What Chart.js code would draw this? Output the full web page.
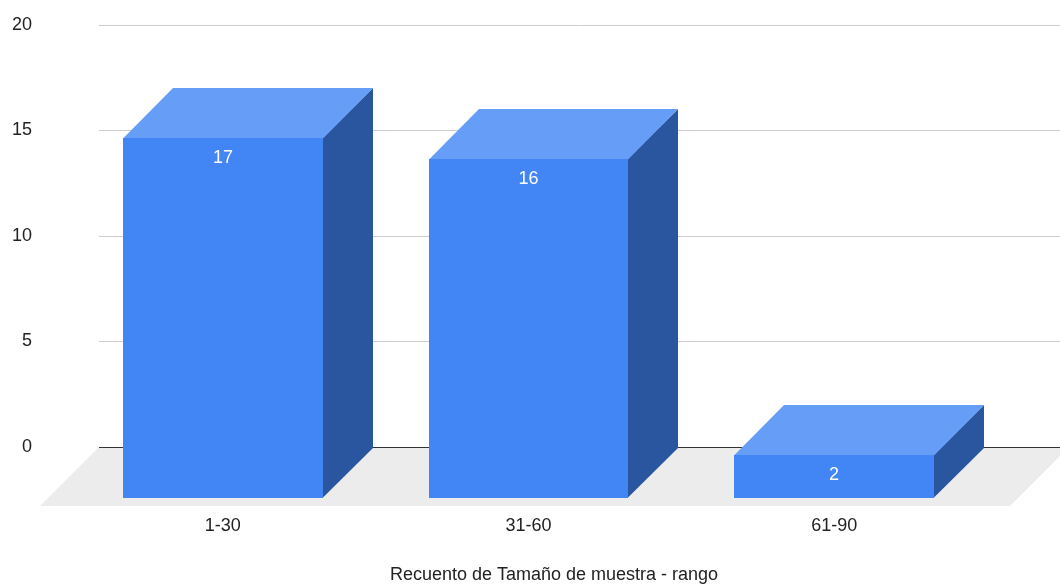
<!DOCTYPE html>
<html>
<head>
<meta charset="utf-8">
<script src="https://cdn.jsdelivr.net/npm/chart.js@4/dist/chart.umd.min.js"></script>
<style>
  html, body { margin: 0; padding: 0; background: #ffffff; }
  #wrap { width: 1060px; height: 584px; position: relative; }
</style>
</head>
<body>
<div id="wrap"><canvas id="c"></canvas></div>
<script>
// Counts per sample-size range
const categories = ['1-30', '31-60', '61-90'];
const counts = [17, 16, 2];
const yTicks = [0, 5, 10, 15, 20];
const axisTitle = 'Recuento de Tamaño de muestra - rango';

const FONT = "'Liberation Sans', Arial, sans-serif";
const TEXT = '#222222';
const DEPTH = 50;        // extrusion of each box (px, toward the viewer)
const FLOOR_DEPTH = 59;  // depth of the grey floor plane
const COLORS = { front: '#4285f4', top: '#669df6', side: '#2a56a0', floor: '#ececec', grid: '#cccccc', zero: '#333333' };

function poly(ctx, pts, color) {
  ctx.fillStyle = color;
  ctx.beginPath();
  ctx.moveTo(pts[0][0], pts[0][1]);
  for (let i = 1; i < pts.length; i++) ctx.lineTo(pts[i][0], pts[i][1]);
  ctx.closePath();
  ctx.fill();
}

// Floor, back-plane grid and the 3D boxes
const scene3d = {
  id: 'scene3d',
  beforeDatasetsDraw(chart) {
    const { ctx, scales: { y } } = chart;
    const y0 = y.getPixelForValue(0);
    const backLeft = chart.chartArea.left + 29;
    const backRight = chart.width + 9;
    ctx.save();
    poly(ctx, [
      [backLeft, y0], [backRight, y0],
      [backRight - FLOOR_DEPTH, y0 + FLOOR_DEPTH], [backLeft - FLOOR_DEPTH, y0 + FLOOR_DEPTH]
    ], COLORS.floor);
    ctx.lineWidth = 1;
    yTicks.forEach(v => {
      const py = Math.round(y.getPixelForValue(v)) + 0.5;
      ctx.strokeStyle = v === 0 ? COLORS.zero : COLORS.grid;
      ctx.beginPath();
      ctx.moveTo(backLeft, py);
      ctx.lineTo(chart.width, py);
      ctx.stroke();
    });
    ctx.restore();
  },
  afterDatasetsDraw(chart) {
    const { ctx } = chart;
    const meta = chart.getDatasetMeta(0);
    const values = chart.data.datasets[0].data;
    ctx.save();
    meta.data.forEach((bar, i) => {
      const { x, y, base, width } = bar.getProps(['x', 'y', 'base', 'width'], true);
      const l = Math.round(x - width / 2), r = Math.round(x + width / 2);
      const yt = Math.round(y), yb = Math.round(base) + 1;
      const ft = yt + DEPTH, fb = yb + DEPTH;
      // side face overlaps the front by half a pixel to avoid a seam
      poly(ctx, [[r - 0.5, ft], [r + DEPTH, yt], [r + DEPTH, yb], [r - 0.5, fb]], COLORS.side);
      poly(ctx, [[l, ft + 0.5], [l + DEPTH, yt], [r + DEPTH, yt], [r, ft + 0.5]], COLORS.top);
      poly(ctx, [[l, ft], [r, ft], [r, fb], [l, fb]], COLORS.front);
      ctx.fillStyle = '#ffffff';
      ctx.font = '18px ' + FONT;
      ctx.textAlign = 'center';
      ctx.textBaseline = 'alphabetic';
      ctx.fillText(String(values[i]), (l + r) / 2, ft + 24.5);
    });
    // axis title under the floor
    const sx = chart.scales.x;
    ctx.fillStyle = TEXT;
    ctx.font = '18px ' + FONT;
    ctx.textAlign = 'center';
    ctx.fillText(axisTitle, (sx.left + sx.right) / 2 + 25.5, 580);
    ctx.restore();
  }
};

new Chart(document.getElementById('c'), {
  type: 'bar',
  data: {
    labels: categories,
    datasets: [{
      data: counts,
      backgroundColor: 'rgba(0,0,0,0)',
      borderWidth: 0,
      categoryPercentage: 1,
      barPercentage: 0.654
    }]
  },
  options: {
    responsive: true,
    maintainAspectRatio: false,
    animation: false,
    layout: { padding: { top: 24.6, right: 73, bottom: 0, left: 0 } },
    plugins: { legend: { display: false }, tooltip: { enabled: false }, title: { display: false } },
    scales: {
      x: {
        grid: { display: false, drawTicks: false },
        border: { display: false },
        ticks: { color: TEXT, font: { family: FONT, size: 18 }, padding: 68, maxRotation: 0 },
        afterFit(scale) { scale.height = 137; scale.paddingLeft = 0; scale.paddingRight = 0; }
      },
      y: {
        min: 0, max: 20,
        afterBuildTicks(scale) { scale.ticks = yTicks.map(v => ({ value: v })); },
        grid: { display: false, drawTicks: false },
        border: { display: false },
        ticks: { color: TEXT, font: { family: FONT, size: 18 }, padding: 38 },
        afterFit(scale) { scale.width = 70; scale.paddingTop = 0; scale.paddingBottom = 0; }
      }
    }
  },
  plugins: [scene3d]
});
</script>
</body>
</html>
